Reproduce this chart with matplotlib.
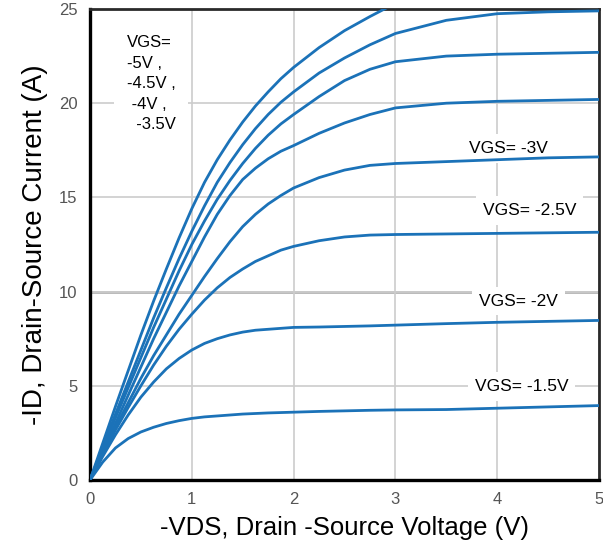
import numpy as np
import matplotlib
matplotlib.use("Agg")
import matplotlib.pyplot as plt

plt.rcParams["font.family"] = ["Liberation Sans", "DejaVu Sans"]

# -VDS (V)
vds = [0, 0.125, 0.25, 0.375, 0.5, 0.625, 0.75, 0.875, 1.0, 1.125, 1.25,
       1.375, 1.5, 1.625, 1.75, 1.875, 2.0, 2.25, 2.5, 2.75, 3.0,
       3.5, 4.0, 4.5, 5.0]

# -ID (A) for each gate voltage
id_5v = [0, 1.95, 3.9, 5.8, 7.7, 9.5, 11.2, 12.85, 14.4, 15.8, 17.0,
         18.05, 19.0, 19.85, 20.6, 21.3, 21.9, 22.95, 23.85, 24.6, 25.3,
         np.nan, np.nan, np.nan, np.nan]
id_45v = [0, 1.75, 3.5, 5.2, 6.9, 8.6, 10.2, 11.75, 13.2, 14.55, 15.8,
          16.85, 17.8, 18.65, 19.4, 20.05, 20.6, 21.6, 22.4, 23.1, 23.7,
          24.4, 24.75, 24.85, 24.9]
id_4v = [0, 1.65, 3.3, 4.9, 6.5, 8.1, 9.6, 11.1, 12.5, 13.75, 14.9,
         15.9, 16.8, 17.6, 18.3, 18.9, 19.4, 20.35, 21.2, 21.8, 22.2,
         22.5, 22.6, 22.65, 22.7]
id_35v = [0, 1.5, 3.0, 4.5, 6.0, 7.5, 8.9, 10.3, 11.6, 12.9, 14.1,
          15.1, 15.95, 16.55, 17.05, 17.45, 17.75, 18.4, 18.95, 19.4, 19.75,
          20.0, 20.1, 20.15, 20.2]
id_3v = [0, 1.4, 2.8, 4.1, 5.4, 6.6, 7.7, 8.8, 9.8, 10.8, 11.75,
         12.65, 13.45, 14.1, 14.65, 15.1, 15.5, 16.05, 16.45, 16.7, 16.8,
         16.9, 17.0, 17.1, 17.15]
id_25v = [0, 1.35, 2.65, 3.85, 5.0, 6.1, 7.1, 8.0, 8.8, 9.55, 10.2,
          10.75, 11.2, 11.6, 11.9, 12.2, 12.4, 12.7, 12.9, 13.0, 13.03,
          13.06, 13.09, 13.12, 13.15]
id_2v = [0, 1.25, 2.4, 3.45, 4.4, 5.2, 5.9, 6.45, 6.9, 7.25, 7.5,
         7.7, 7.85, 7.95, 8.0, 8.05, 8.1, 8.12, 8.15, 8.18, 8.22,
         8.3, 8.37, 8.42, 8.47]
id_15v = [0, 0.95, 1.7, 2.2, 2.55, 2.8, 3.0, 3.15, 3.27, 3.35, 3.4,
          3.45, 3.5, 3.53, 3.56, 3.58, 3.6, 3.64, 3.67, 3.7, 3.72,
          3.74, 3.81, 3.88, 3.95]

curves = [id_5v, id_45v, id_4v, id_35v, id_3v, id_25v, id_2v, id_15v]

xticks = [0, 1, 2, 3, 4, 5]
yticks = [0, 5, 10, 15, 20, 25]

# label text and (x, y) anchor in data units
group_label = "VGS=\n-5V ,\n-4.5V ,\n -4V ,\n  -3.5V"
right_labels = ["VGS= -3V", "VGS= -2.5V", "VGS= -2V", "VGS= -1.5V"]
right_pos = [(3.72, 17.6), (3.86, 14.3), (3.82, 9.5), (3.78, 4.95)]

BLUE = "#1b72b8"

fig = plt.figure(figsize=(6.03, 5.45), dpi=100)
ax = fig.add_axes([90 / 603, 1 - 480 / 545, 509 / 603, 471 / 545])

for ids in curves:
    ax.plot(vds, ids, color=BLUE, lw=2.0, zorder=3,
            solid_capstyle="round", solid_joinstyle="round")

ax.set_xlim(0, 5)
ax.set_ylim(0, 25)
ax.set_xticks(xticks)
ax.set_yticks(yticks)
ax.grid(True, color="#cccccc", lw=1.2, zorder=0)
ax.axhline(10, color="#b3b3b3", lw=2.0, zorder=0.5)
ax.set_axisbelow(True)

ax.tick_params(axis="both", length=0, labelsize=12, labelcolor="#555555")
ax.tick_params(axis="x", pad=9)
ax.tick_params(axis="y", pad=9)

for side in ["left", "bottom"]:
    ax.spines[side].set_linewidth(2.4)
    ax.spines[side].set_color("black")
for side in ["top", "right"]:
    ax.spines[side].set_linewidth(2.0)
    ax.spines[side].set_color("#2a2a2a")

ax.set_xlabel("-VDS, Drain -Source Voltage (V)", fontsize=18.5, labelpad=6)
ax.set_ylabel("-ID, Drain-Source Current (A)", fontsize=20, labelpad=8)

ax.text(0.36, 23.6, group_label, fontsize=12, va="top", ha="left",
        linespacing=1.45, zorder=2.5,
        bbox=dict(facecolor="white", edgecolor="none", pad=9))

for txt, (x, y) in zip(right_labels, right_pos):
    ax.text(x, y, txt, fontsize=12.5, va="center", ha="left", zorder=2.5,
            bbox=dict(facecolor="white", edgecolor="none", pad=5))

fig.savefig("out.png", dpi=100, facecolor="white")
